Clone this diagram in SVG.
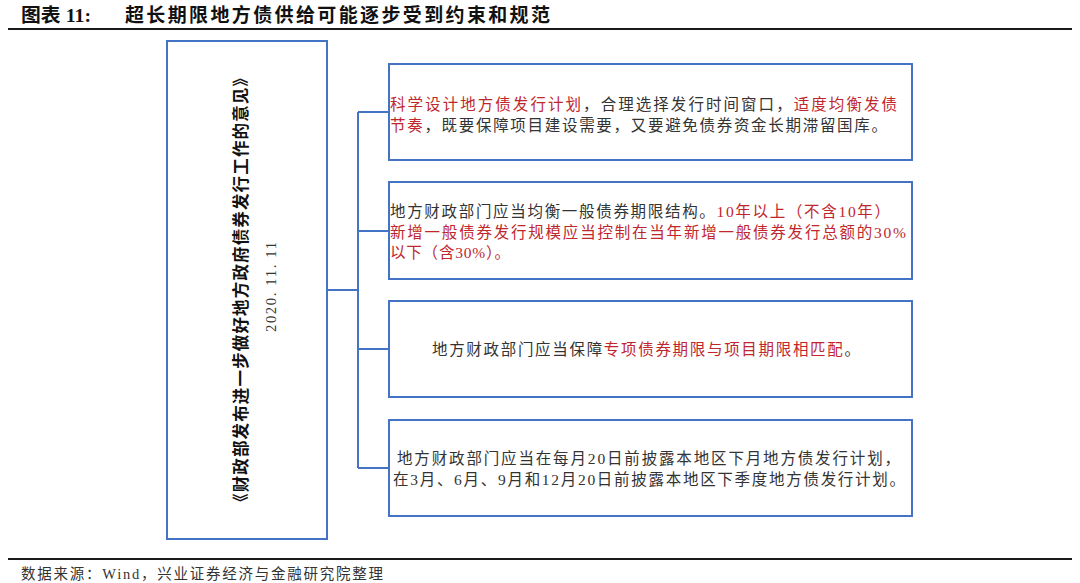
<svg xmlns="http://www.w3.org/2000/svg" width="1080" height="583" viewBox="0 0 1080 583">
<style>
.bg{fill:#ffffff}
.rule{stroke:#1a1a1a;stroke-width:2;fill:none}
.box{fill:#ffffff;stroke:#4472C4;stroke-width:2}
.conn{stroke:#4472C4;stroke-width:2;fill:none}
.t{font-family:"Liberation Serif","Noto Sans CJK SC",serif;font-size:15.5px;fill:#333333}
.r{fill:#C0272D}
.title{font-family:"Liberation Serif","Noto Sans CJK SC",serif;font-size:19px;font-weight:bold;fill:#111111}
.vt{font-family:"Noto Sans CJK SC",sans-serif;font-size:16.5px;font-weight:bold;fill:#111111}
.date{font-family:"Liberation Serif",serif;font-size:14.5px;fill:#333333}
.foot{font-family:"Liberation Serif","Noto Sans CJK SC",serif;font-size:14.5px;fill:#333333}
</style>
<rect class="bg" x="0" y="0" width="1080" height="583"/>

<g id="header">
<text class="title" x="21" y="22" textLength="70" lengthAdjust="spacingAndGlyphs">图表 11:</text>
<text class="title" x="125" y="22" textLength="425" lengthAdjust="spacing">超长期限地方债供给可能逐步受到约束和规范</text>
<line class="rule" x1="8" y1="29" x2="1072" y2="29"/>
</g>

<g id="connectors">
<polyline class="conn" points="327,290 358,290"/>
<line class="conn" x1="358" y1="112" x2="358" y2="468"/>
<line class="conn" x1="358" y1="112" x2="389" y2="112"/>
<line class="conn" x1="358" y1="231" x2="389" y2="231"/>
<line class="conn" x1="358" y1="349" x2="389" y2="349"/>
<line class="conn" x1="358" y1="468" x2="389" y2="468"/>
</g>

<g id="node-main">
<rect class="box" x="167" y="41" width="160" height="498"/>
<text class="vt" transform="translate(247,290) rotate(-90)" x="0" y="0" text-anchor="middle" textLength="440" lengthAdjust="spacing">《财政部发布进一步做好地方政府债券发行工作的意见》</text>
<text class="date" transform="translate(276,287) rotate(-90)" x="0" y="0" text-anchor="middle" textLength="90" lengthAdjust="spacing">2020. 11. 11</text>
</g>

<g id="node-1">
<rect class="box" x="389" y="64" width="523" height="96"/>
<text class="t" x="390" y="110" textLength="507" lengthAdjust="spacing"><tspan class="r">科学设计地方债发行计划</tspan>，合理选择发行时间窗口，<tspan class="r">适度均衡发债</tspan></text>
<text class="t" x="390" y="131" textLength="497" lengthAdjust="spacing"><tspan class="r">节奏</tspan>，既要保障项目建设需要，又要避免债券资金长期滞留国库。</text>
</g>

<g id="node-2">
<rect class="box" x="389" y="182" width="523" height="97"/>
<text class="t" x="390" y="217" textLength="500" lengthAdjust="spacing">地方财政部门应当均衡一般债券期限结构。<tspan class="r">10年以上（不含10年）</tspan></text>
<text class="t r" x="390" y="237.5" textLength="516" lengthAdjust="spacing">新增一般债券发行规模应当控制在当年新增一般债券发行总额的30%</text>
<text class="t r" x="390" y="258" textLength="120" lengthAdjust="spacing">以下（含30%）。</text>
</g>

<g id="node-3">
<rect class="box" x="389" y="301" width="523" height="96"/>
<text class="t" x="432" y="354.5" textLength="428" lengthAdjust="spacing">地方财政部门应当保障<tspan class="r">专项债券期限与项目期限相匹配</tspan>。</text>
</g>

<g id="node-4">
<rect class="box" x="389" y="420" width="523" height="96"/>
<text class="t" x="397" y="464" textLength="503" lengthAdjust="spacing">地方财政部门应当在每月20日前披露本地区下月地方债发行计划，</text>
<text class="t" x="393" y="485" textLength="512" lengthAdjust="spacing">在3月、6月、9月和12月20日前披露本地区下季度地方债发行计划。</text>
</g>

<g id="footer">
<line class="rule" x1="8" y1="559" x2="1072" y2="559"/>
<text class="foot" x="21" y="579" textLength="362" lengthAdjust="spacing">数据来源：Wind，兴业证券经济与金融研究院整理</text>
</g>
</svg>
